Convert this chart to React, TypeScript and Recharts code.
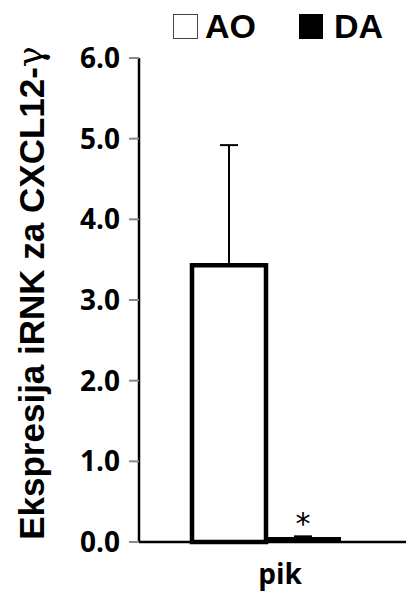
import { BarChart, Bar, XAxis, YAxis, ErrorBar, LabelList } from 'recharts'

const categories = ['pik']
const aoValues = [3.43]
const aoErrors = [1.49]
const daValues = [0.05]
const daErrors = [0.02]
const daMarks = ['*']
const yTicks = [0, 1, 2, 3, 4, 5, 6]

const data = categories.map((name, i) => ({
  name,
  AO: aoValues[i],
  aoErr: [0, aoErrors[i]],
  DA: daValues[i],
  daErr: [0, daErrors[i]],
  mark: daMarks[i],
}))

const tickFont = '"Open Sans", sans-serif'
const labelFont = '"Liberation Sans", Arial, sans-serif'

function YTitle() {
  return (
    <text
      x={31}
      y={293}
      transform="rotate(-90 31 293)"
      textAnchor="middle"
      dominantBaseline="central"
      fontFamily={labelFont}
      fontWeight="bold"
      fontSize={35}
      fill="#000"
    >
      Ekspresija iRNK za CXCL12-<tspan fontWeight="normal" fontFamily="DejaVu Serif">γ</tspan>
    </text>
  )
}

function CategoryTick(props: any) {
  const { x, payload } = props
  return (
    <text x={x + 14} y={584} textAnchor="middle" fontFamily={tickFont} fontWeight="bold" fontSize={28} fill="#000">
      {payload.value}
    </text>
  )
}

export default function App() {
  return (
    <div style={{ position: 'absolute', left: 0, top: 0, width: 406, height: 592, background: '#fff' }}>
      <div
        style={{
          position: 'absolute',
          left: 173,
          top: 6,
          display: 'flex',
          alignItems: 'center',
          fontFamily: labelFont,
          fontWeight: 'bold',
          fontSize: 34,
          lineHeight: '40px',
          color: '#000',
        }}
      >
        <span style={{ width: 25, height: 25, border: '1.5px solid #444', boxSizing: 'border-box', display: 'inline-block' }} />
        <span style={{ marginLeft: 7 }}>AO</span>
        <span style={{ width: 24, height: 25, background: '#000', display: 'inline-block', marginLeft: 43 }} />
        <span style={{ marginLeft: 11 }}>DA</span>
      </div>
      <BarChart
        width={406}
        height={592}
        data={data}
        margin={{ top: 58, right: 0, bottom: 0, left: 0 }}
        barGap={0}
        barCategoryGap={53}
      >
        <XAxis
          dataKey="name"
          height={50}
          padding={{ left: 0, right: 13 }}
          axisLine={{ stroke: '#000', strokeWidth: 2.5 }}
          tickLine={false}
          tick={<CategoryTick />}
        />
        <YAxis
          width={139}
          domain={[0, 6]}
          ticks={yTicks}
          interval={0}
          tickFormatter={(v: number) => v.toFixed(1)}
          axisLine={{ stroke: '#000', strokeWidth: 2.5 }}
          tickLine={{ stroke: '#888', strokeWidth: 2 }}
          tickSize={10}
          tickMargin={9}
          tick={{ fill: '#000', fontFamily: tickFont, fontWeight: 'bold', fontSize: 28 }}
          label={<YTitle />}
        />
        <Bar dataKey="AO" fill="#fff" stroke="#000" strokeWidth={4.5} isAnimationActive={false}>
          <ErrorBar dataKey="aoErr" width={9} stroke="#000" strokeWidth={2} direction="y" />
        </Bar>
        <Bar dataKey="DA" fill="#000" stroke="#000" strokeWidth={2} isAnimationActive={false}>
          <ErrorBar dataKey="daErr" width={9} stroke="#000" strokeWidth={2} direction="y" />
          <LabelList dataKey="mark" position="top" offset={4} fontSize={30} fill="#000" fontFamily="DejaVu Sans" />
        </Bar>
      </BarChart>
    </div>
  )
}
